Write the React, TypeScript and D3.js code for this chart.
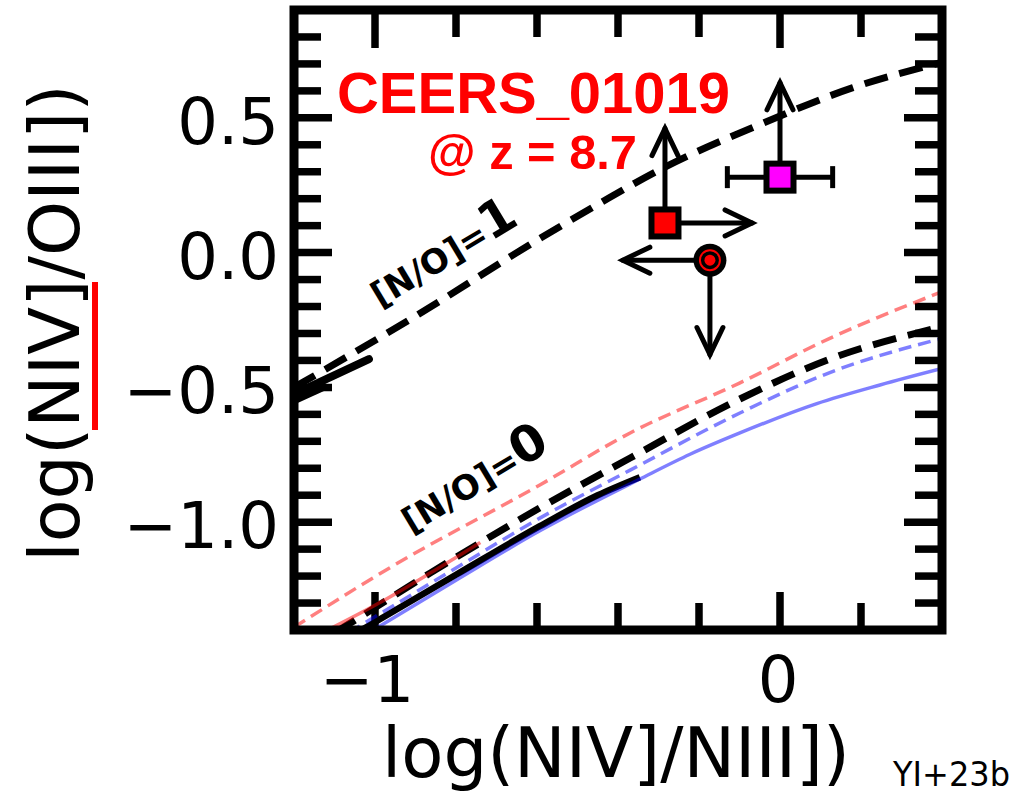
import React from 'react';
import * as d3 from 'd3';

type P = [number, number];

// ---- axis ticks ----
const xMajorTicks = [-1, 0];
const xMinorTicks = [-0.8, -0.6, -0.4, -0.2, 0.2];
const xTickLabels = ['\u22121', '0'];
const yMajorTicks = [-1.0, -0.5, 0.0, 0.5];
const yMinorTicks = [-1.3, -1.2, -1.1, -0.9, -0.8, -0.7, -0.6, -0.4, -0.3, -0.2, -0.1, 0.1, 0.2, 0.3, 0.4, 0.6, 0.7, 0.8];
const yTickLabels = ['\u22121.0', '\u22120.5', '0.0', '0.5'];

// ---- model curves ----
const upperDashed: P[] = [[-1.2, -0.5], [-0.91, -0.245], [-0.59, 0.055], [-0.444, 0.184], [-0.3, 0.305], [-0.05, 0.475], [0.18, 0.612], [0.4, 0.706]];
const upperSolid: P[] = [[-1.2, -0.525], [-1.015, -0.395]];
const upperSolidFoot: P[] = [[-1.2, -0.55], [-1.12, -0.495]];

const lowerBlackDashed: P[] = [[-1.1, -1.41], [-1.049, -1.363], [-0.864, -1.189], [-0.593, -0.947], [-0.37, -0.762], [-0.099, -0.543], [0.123, -0.395], [0.4, -0.275]];
const lowerBlackSolid: P[] = [[-1.045, -1.41], [-0.8, -1.195], [-0.593, -1.015], [-0.45, -0.9], [-0.346, -0.833]];
const redDashed: P[] = [[-1.2, -1.39], [-0.96, -1.166], [-0.593, -0.862], [-0.37, -0.669], [-0.1, -0.484], [0.123, -0.318], [0.4, -0.145]];
const redSolid: P[] = [[-1.13, -1.41], [-0.99, -1.3], [-0.864, -1.189], [-0.74, -1.075]];
const blueDashed: P[] = [[-1.065, -1.41], [-0.8, -1.17], [-0.593, -0.985], [-0.37, -0.807], [-0.099, -0.595], [0.123, -0.445], [0.4, -0.318]];
const blueSolid: P[] = [[-1.015, -1.41], [-0.8, -1.215], [-0.593, -1.032], [-0.346, -0.84], [-0.222, -0.748], [-0.099, -0.669], [0.091, -0.56], [0.247, -0.491], [0.4, -0.43]];

// ---- observations ----
const redSquare = { x: -0.284, y: 0.11, up: 0.35, right: 0.215 };
const magentaSquare = { x: 0.0, y: 0.28, xerr: 0.13, up: 0.35 };
const circlePoint = { x: -0.173, y: -0.028, left: 0.215, down: 0.35 };

export default function App() {
  const x = d3.scaleLinear().domain([-1.2, 0.4]).range([294, 942]);
  const y = d3.scaleLinear().domain([-1.4, 0.9]).range([630, 10]);
  const lineC = d3.line<P>().x(d => x(d[0])).y(d => y(d[1])).curve(d3.curveMonotoneX);
  const lineL = d3.line<P>().x(d => x(d[0])).y(d => y(d[1]));

  const [x0, x1] = x.range();
  const [y0, y1] = y.range(); // y0 bottom, y1 top
  const majLen = 38, minLen = 27, tickW = 7.5;

  const ticks: JSX.Element[] = [];
  const addX = (v: number, len: number, k: string) => {
    ticks.push(<line key={'xb' + k} x1={x(v)} x2={x(v)} y1={y0} y2={y0 - len} stroke="#000" strokeWidth={tickW} />);
    ticks.push(<line key={'xt' + k} x1={x(v)} x2={x(v)} y1={y1} y2={y1 + len} stroke="#000" strokeWidth={tickW} />);
  };
  const addY = (v: number, len: number, k: string) => {
    ticks.push(<line key={'yl' + k} y1={y(v)} y2={y(v)} x1={x0} x2={x0 + len} stroke="#000" strokeWidth={tickW} />);
    ticks.push(<line key={'yr' + k} y1={y(v)} y2={y(v)} x1={x1} x2={x1 - len} stroke="#000" strokeWidth={tickW} />);
  };
  xMajorTicks.forEach((v, i) => addX(v, majLen, 'M' + i));
  xMinorTicks.forEach((v, i) => addX(v, minLen, 'm' + i));
  yMajorTicks.forEach((v, i) => addY(v, majLen, 'M' + i));
  yMinorTicks.forEach((v, i) => addY(v, minLen, 'm' + i));

  const arrow = (ax: number, ay: number, bx: number, by: number, key: string) => {
    const dx = bx - ax, dy = by - ay;
    const L = Math.hypot(dx, dy);
    const ux = dx / L, uy = dy / L;
    const hl = 27, hw = 13;
    const p1 = [bx - ux * hl - uy * hw, by - uy * hl + ux * hw];
    const p2 = [bx - ux * hl + uy * hw, by - uy * hl - ux * hw];
    return (
      <g key={key} stroke="#000" strokeWidth={5} fill="none" strokeLinecap="round" strokeLinejoin="miter">
        <line x1={ax} y1={ay} x2={bx} y2={by} />
        <polyline points={`${p1[0]},${p1[1]} ${bx},${by} ${p2[0]},${p2[1]}`} />
      </g>
    );
  };

  const sq = 27;
  const font = 'DejaVu Sans, sans-serif';

  return (
    <svg width={1031} height={796} style={{ position: 'absolute', left: 0, top: 0, background: '#fff' }}>
      <defs>
        <clipPath id="ax">
          <rect x={x0} y={y1} width={x1 - x0} height={y0 - y1} />
        </clipPath>
      </defs>
      <rect x={0} y={0} width={1031} height={796} fill="#fff" />

      {ticks}

      <g clipPath="url(#ax)" fill="none">
        <path d={lineC(upperDashed) || ''} stroke="#000" strokeWidth={7} strokeDasharray="24,12" />
        <path d={lineL(upperSolid) || ''} stroke="#000" strokeWidth={8} strokeLinecap="round" />
        <path d={lineL(upperSolidFoot) || ''} stroke="#000" strokeWidth={7} />

        <path d={lineC(lowerBlackSolid) || ''} stroke="#000" strokeWidth={6.5} />
        <path d={lineC(lowerBlackDashed) || ''} stroke="#000" strokeWidth={7} strokeDasharray="24,12" />
        <path d={lineC(redDashed) || ''} stroke="red" strokeOpacity={0.5} strokeWidth={3.5} strokeDasharray="13,7" />
        <path d={lineC(redSolid) || ''} stroke="red" strokeOpacity={0.5} strokeWidth={3.5} />
        <path d={lineC(blueDashed) || ''} stroke="blue" strokeOpacity={0.5} strokeWidth={3.5} strokeDasharray="13,7" />
        <path d={lineC(blueSolid) || ''} stroke="blue" strokeOpacity={0.5} strokeWidth={3.5} />
      </g>

      {/* frame */}
      <rect x={x0} y={y1} width={x1 - x0} height={y0 - y1} fill="none" stroke="#000" strokeWidth={9} />

      {/* observation arrows */}
      {arrow(x(redSquare.x), y(redSquare.y), x(redSquare.x), y(redSquare.y + redSquare.up), 'r-up')}
      {arrow(x(redSquare.x), y(redSquare.y), x(redSquare.x + redSquare.right), y(redSquare.y), 'r-right')}
      {arrow(x(magentaSquare.x), y(magentaSquare.y), x(magentaSquare.x), y(magentaSquare.y + magentaSquare.up), 'm-up')}
      {arrow(x(circlePoint.x), y(circlePoint.y), x(circlePoint.x - circlePoint.left), y(circlePoint.y), 'c-left')}
      {arrow(x(circlePoint.x), y(circlePoint.y), x(circlePoint.x), y(circlePoint.y - circlePoint.down), 'c-down')}

      {/* magenta x error bar */}
      <g stroke="#000" strokeWidth={5}>
        <line x1={x(magentaSquare.x - magentaSquare.xerr)} x2={x(magentaSquare.x + magentaSquare.xerr)} y1={y(magentaSquare.y)} y2={y(magentaSquare.y)} />
        <line x1={x(magentaSquare.x - magentaSquare.xerr)} x2={x(magentaSquare.x - magentaSquare.xerr)} y1={y(magentaSquare.y) - 11} y2={y(magentaSquare.y) + 11} />
        <line x1={x(magentaSquare.x + magentaSquare.xerr)} x2={x(magentaSquare.x + magentaSquare.xerr)} y1={y(magentaSquare.y) - 11} y2={y(magentaSquare.y) + 11} />
      </g>

      {/* markers */}
      <rect x={x(redSquare.x) - sq / 2} y={y(redSquare.y) - sq / 2} width={sq} height={sq} fill="#ff0000" stroke="#000" strokeWidth={6} />
      <rect x={x(magentaSquare.x) - sq / 2} y={y(magentaSquare.y) - sq / 2} width={sq} height={sq} fill="#ff00ff" stroke="#000" strokeWidth={6} />
      <circle cx={x(circlePoint.x)} cy={y(circlePoint.y)} r={16.5} fill="#000" />
      <circle cx={x(circlePoint.x)} cy={y(circlePoint.y)} r={10} fill="none" stroke="red" strokeWidth={2} />
      <circle cx={x(circlePoint.x)} cy={y(circlePoint.y)} r={5.5} fill="red" />

      {/* annotations */}
      <text x={337} y={113} fill="red" fontFamily="Liberation Sans, Arial, sans-serif" fontWeight="bold" fontSize={57} textLength={393} lengthAdjust="spacingAndGlyphs">CEERS_01019</text>
      <text x={428} y={169} fill="red" fontFamily="Liberation Sans, Arial, sans-serif" fontWeight="bold" fontSize={48} textLength={209} lengthAdjust="spacingAndGlyphs">@ z = 8.7</text>

      <text transform="translate(380,308) rotate(-31)" fontFamily={font} fontWeight="bold" fill="#000">
        <tspan fontSize={34}>[N/O]=</tspan><tspan fontSize={50}>1</tspan>
      </text>
      <text transform="translate(411,534) rotate(-31)" fontFamily={font} fontWeight="bold" fill="#000">
        <tspan fontSize={34}>[N/O]=</tspan><tspan fontSize={50}>0</tspan>
      </text>

      {/* tick labels */}
      {xMajorTicks.map((v, i) => (
        <text key={'xl' + i} x={x(v) + (v < 0 ? -8 : -2)} y={702} textAnchor="middle" fontFamily={font} fontSize={64}>{xTickLabels[i]}</text>
      ))}
      {yMajorTicks.map((v, i) => (
        <text key={'yl' + i} x={279} y={y(v) + 4} textAnchor="end" dominantBaseline="central" fontFamily={font} fontSize={64}>{yTickLabels[i]}</text>
      ))}

      {/* axis labels */}
      <text x={616} y={777} textAnchor="middle" fontFamily={font} fontSize={69}>log(NIV]/NIII])</text>
      <text transform="translate(79,323) rotate(-90)" textAnchor="middle" fontFamily={font} fontSize={70}>log(NIV]/OIII])</text>
      <rect x={92} y={282} width={6} height={148} fill="red" />

      <text x={893} y={786} fontFamily={font} fontSize={33} textLength={117} lengthAdjust="spacingAndGlyphs">YI+23b</text>
    </svg>
  );
}
